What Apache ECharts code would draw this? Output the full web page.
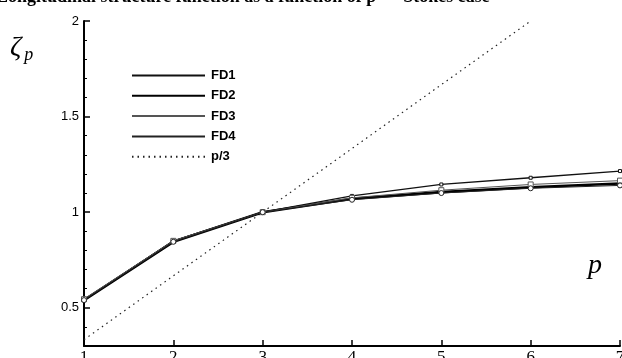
<!DOCTYPE html>
<html>
<head>
<meta charset="utf-8">
<script src="https://cdn.jsdelivr.net/npm/echarts@6/dist/echarts.min.js"></script>
<style>
  html, body { margin: 0; padding: 0; background: #fff; }
  #chart { width: 622px; height: 358px; }
</style>
</head>
<body>
<div id="chart"></div>
<script>
// Scaling exponents zeta_p of the structure function, order p = 1..7
const orders = [1, 2, 3, 4, 5, 6, 7];
const fd1 = [0.54, 0.85, 1.00, 1.085, 1.145, 1.18, 1.215];
const fd2 = [0.54, 0.845, 1.00, 1.07, 1.105, 1.13, 1.15];
const fd3 = [0.545, 0.85, 1.00, 1.075, 1.115, 1.145, 1.165];
const fd4 = [0.54, 0.845, 1.00, 1.065, 1.10, 1.125, 1.14];
// Reference K41 slope p/3
const k41Orders = [1, 2, 3, 4, 5, 6];
const k41 = [0.333, 0.667, 1.0, 1.333, 1.667, 2.0];

const yMajor = [0.5, 1, 1.5, 2];
const yMinor = [0.4, 0.6, 0.7, 0.8, 0.9, 1.1, 1.2, 1.3, 1.4, 1.6, 1.7, 1.8, 1.9];

const pair = (xs, ys) => xs.map((x, i) => [x, ys[i]]);

const chart = echarts.init(document.getElementById('chart'), null, { renderer: 'canvas' });

const baseSeries = (name, data, width, color, symbol, size, dash) => ({
  name, type: 'line', data,
  symbol, symbolSize: size, showSymbol: symbol !== 'none',
  lineStyle: { width, color, type: dash || 'solid' },
  itemStyle: { color: '#fff', borderColor: color, borderWidth: 1 },
  emphasis: { disabled: true },
  animation: false, z: 3
});

chart.setOption({
  backgroundColor: '#fff',
  animation: false,
  grid: { left: 84, right: 2, top: 21, bottom: 12, containLabel: false, outerBoundsMode: 'none' },
  legend: {
    orient: 'vertical', left: 126, top: 64,
    itemWidth: 73, itemHeight: 12, itemGap: 7.3,
    itemStyle: { opacity: 0 },
    textStyle: { fontFamily: 'Liberation Sans, Arial, sans-serif', fontWeight: 'bold', fontSize: 13, color: '#000', padding: [0, 0, 0, 1] },
    data: ['FD1', 'FD2', 'FD3', 'FD4', 'p/3']
  },
  xAxis: {
    type: 'value', min: 1, max: 7, interval: 1,
    axisLine: { show: true, onZero: false, lineStyle: { color: '#000', width: 2 } },
    axisTick: { show: true, inside: true, length: 6, lineStyle: { color: '#000', width: 1.5 } },
    axisLabel: { fontFamily: 'Liberation Serif, Times New Roman, serif', fontSize: 17, color: '#000', margin: 3 },
    splitLine: { show: false }
  },
  yAxis: [
    {
      type: 'value', min: 0.3, max: 2,
      axisLine: { show: true, onZero: false, lineStyle: { color: '#000', width: 2 } },
      axisTick: { show: true, inside: true, length: 6, customValues: yMajor, lineStyle: { color: '#000', width: 1.5 } },
      axisLabel: { customValues: yMajor, fontFamily: 'Liberation Sans, Arial, sans-serif', fontSize: 13, color: '#000', margin: 5,
        formatter: v => String(v) },
      splitLine: { show: false }
    },
    {
      type: 'value', min: 0.3, max: 2, position: 'left',
      axisLine: { show: false },
      axisTick: { show: true, inside: true, length: 3, customValues: yMinor, lineStyle: { color: '#000', width: 1 } },
      axisLabel: { show: false },
      splitLine: { show: false }
    }
  ],
  series: [
    baseSeries('FD1', pair(orders, fd1), 1.3, '#111', 'rect', 3),
    baseSeries('FD2', pair(orders, fd2), 2.6, '#000', 'none', 0),
    baseSeries('FD3', pair(orders, fd3), 1, '#555', 'rect', 5),
    baseSeries('FD4', pair(orders, fd4), 1, '#222', 'circle', 5),
    Object.assign(baseSeries('p/3', pair(k41Orders, k41), 1.2, '#222', 'none', 0, [1.5, 4]), { z: 2 })
  ],
  graphic: [
    {
      type: 'text', left: -4, top: -12,
      style: { text: 'Longitudinal structure function as a function of p  –  Stokes case', font: 'bold 18px "Liberation Serif", serif', fill: '#000' }
    },
    {
      type: 'text', left: 10, top: 34,
      style: {
        text: '{z|ζ}{s|p}',
        rich: {
          z: { font: 'italic 28px "Liberation Serif", serif', fill: '#000' },
          s: { font: 'italic 18px "Liberation Serif", serif', fill: '#000', padding: [14, 0, 0, 3] }
        }
      }
    },
    {
      type: 'text', left: 588, top: 252,
      style: { text: 'p', font: 'italic 28px "Liberation Serif", serif', fill: '#000' }
    }
  ]
});
</script>
</body>
</html>
